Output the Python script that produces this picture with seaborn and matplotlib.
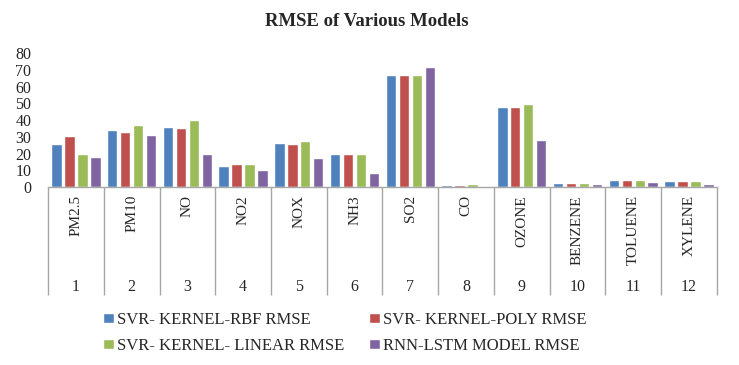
import numpy as np
import pandas as pd
import seaborn as sns
import matplotlib.pyplot as plt
from matplotlib.patches import Patch

# ---- data ----
pollutants = ["PM2.5", "PM10", "NO", "NO2", "NOX", "NH3", "SO2", "CO",
              "OZONE", "BENZENE", "TOLUENE", "XYLENE"]
positions = [str(i) for i in range(1, 13)]
models = ["SVR- KERNEL-RBF RMSE", "SVR- KERNEL-POLY RMSE",
          "SVR- KERNEL- LINEAR RMSE", "RNN-LSTM MODEL RMSE"]

rbf = [25.9, 34.2, 36.0, 12.7, 26.5, 19.7, 66.7, 1.0, 47.6, 2.4, 4.2, 3.4]
poly = [30.4, 32.6, 35.4, 13.5, 25.9, 19.7, 67.1, 1.0, 47.6, 2.4, 4.2, 3.4]
linear = [19.7, 36.8, 40.0, 13.5, 27.5, 19.5, 67.1, 1.6, 49.8, 2.4, 4.2, 3.4]
lstm = [18.1, 31.2, 19.7, 10.3, 17.5, 8.2, 71.6, 0.6, 28.3, 1.6, 3.0, 1.6]

colors = ["#4F81BD", "#C0504D", "#9BBB59", "#8064A2"]

# long format for seaborn
df = pd.DataFrame({
    "pollutant": pollutants * 4,
    "model": np.repeat(models, len(pollutants)),
    "rmse": rbf + poly + linear + lstm,
})

sns.set_style("white")
plt.rcParams["font.family"] = ["Liberation Serif", "DejaVu Serif"]

fig = plt.figure(figsize=(7.39, 3.65), dpi=100)
ax = fig.add_axes([0.065, 0.4877, 0.905, 0.367])

sns.barplot(data=df, x="pollutant", y="rmse", hue="model", hue_order=models,
            palette=colors, saturation=1, width=0.93, gap=0.2,
            errorbar=None, legend=False, ax=ax)

ax.set_ylim(0, 80)
ax.set_xlim(-0.5, len(pollutants) - 0.5)
ax.set_yticks(range(0, 81, 10))
ax.tick_params(axis="y", length=0, pad=12, labelsize=11.5)
ax.set_xticks([])
ax.set_xlabel("")
ax.set_ylabel("")
for s in ["left", "top", "right"]:
    ax.spines[s].set_visible(False)
ax.spines["bottom"].set_color("#A6A6A6")
ax.spines["bottom"].set_linewidth(1)

# two-level category axis (name + index) with separators
tr = ax.get_xaxis_transform()
ax.vlines(np.arange(len(pollutants) + 1) - 0.5, -0.806, 0, transform=tr,
          color="#A6A6A6", lw=1, clip_on=False)
for i, (name, num) in enumerate(zip(pollutants, positions)):
    ax.text(i, -0.06, name, transform=tr, rotation=90, ha="center", va="top",
            fontsize=11)
    ax.text(i, -0.746, num, transform=tr, ha="center", va="center",
            fontsize=11.5)

fig.text(0.497, 1 - 22 / 365, "RMSE of Various Models", ha="center",
         va="center", fontsize=13.5, fontweight="bold")

# legend: 2 x 2, row-wise order
order = [0, 2, 1, 3]
handles = [Patch(facecolor=colors[k]) for k in order]
labels = [models[k] for k in order]
fig.legend(handles, labels, loc="upper left", bbox_to_anchor=(0.139, 0.146),
           ncol=2, frameon=False, handlelength=0.66, handleheight=0.6,
           handletextpad=0.18, columnspacing=1.5, labelspacing=0.62,
           borderpad=0, borderaxespad=0, fontsize=12)

fig.savefig("out.png", dpi=100)
